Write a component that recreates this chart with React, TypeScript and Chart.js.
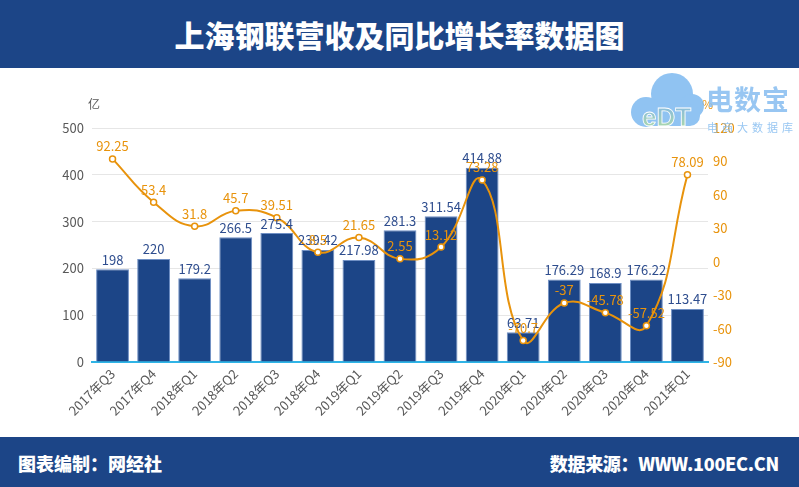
import React, { useEffect, useRef } from "react";
import { Chart, registerables } from "chart.js";

Chart.register(...registerables);

const categories = [
  "2017年Q3", "2017年Q4", "2018年Q1", "2018年Q2", "2018年Q3", "2018年Q4",
  "2019年Q1", "2019年Q2", "2019年Q3", "2019年Q4", "2020年Q1", "2020年Q2",
  "2020年Q3", "2020年Q4", "2021年Q1",
];
const revenue = [198, 220, 179.2, 266.5, 275.4, 239.42, 217.98, 281.3, 311.54, 414.88, 63.71, 176.29, 168.9, 176.22, 113.47];
const growth = [92.25, 53.4, 31.8, 45.7, 39.51, 8.5, 21.65, 2.55, 13.12, 73.28, -70.7, -37, -45.78, -57.52, 78.09];

const TITLE = "上海钢联营收及同比增长率数据图";
const FOOT_LEFT = "图表编制：网经社";
const FOOT_RIGHT = "数据来源：WWW.100EC.CN";

const BLUE = "#1c4587";
const ORANGE = "#e8930c";
const FONT = "'Noto Sans CJK SC', 'Noto Sans', sans-serif";

const labelPlugin = {
  id: "valueLabels",
  afterDatasetsDraw(chart: any) {
    const ctx = chart.ctx;
    ctx.save();
    ctx.textAlign = "center";
    ctx.textBaseline = "bottom";
    ctx.font = `13px ${FONT}`;
    const barMeta = chart.getDatasetMeta(0);
    barMeta.data.forEach((el: any, i: number) => {
      ctx.fillStyle = "#2e4d8e";
      ctx.fillText(String(revenue[i]), el.x, el.y - 3);
    });
    const lineMeta = chart.getDatasetMeta(1);
    lineMeta.data.forEach((el: any, i: number) => {
      ctx.fillStyle = ORANGE;
      ctx.fillText(String(growth[i]), el.x, el.y - 6);
    });
    const ca = chart.chartArea;
    ctx.font = `12px ${FONT}`;
    ctx.fillStyle = "#595959";
    ctx.textAlign = "left";
    ctx.textBaseline = "middle";
    ctx.fillText("亿", ca.left - 4, ca.top - 24);
    ctx.fillStyle = ORANGE;
    ctx.fillText("%", ca.right - 6, ca.top - 24);
    ctx.restore();
  },
};

function Logo() {
  return (
    <div style={{ position: "absolute", left: 626, top: 70, width: 172, height: 66, opacity: 0.85, pointerEvents: "none" }}>
      <svg width="82" height="64" style={{ position: "absolute", left: 0, top: 0 }}>
        <defs>
          <linearGradient id="edtg" x1="0" y1="0" x2="0" y2="1">
            <stop offset="0" stopColor="#6aa8e8" />
            <stop offset="1" stopColor="#a6d98f" />
          </linearGradient>
        </defs>
        <g fill="#7db9f0">
          <circle cx="46" cy="24" r="21" />
          <circle cx="20" cy="42" r="15" />
          <circle cx="66" cy="36" r="12" />
          <rect x="10" y="34" width="64" height="22" rx="10" />
        </g>
        <text x="16" y="56" fontSize="26" fontWeight="bold" fill="url(#edtg)" stroke="#ffffff" strokeWidth="0.8" fontFamily="Arial, sans-serif">eDT</text>
      </svg>
      <div style={{ position: "absolute", left: 80, top: 14, fontSize: 27, fontWeight: 700, color: "#86bdf0", fontFamily: FONT, letterSpacing: 1, lineHeight: "30px" }}>电数宝</div>
      <div style={{ position: "absolute", left: 81, top: 50, fontSize: 11, color: "#86bdf0", fontFamily: FONT, letterSpacing: 4, lineHeight: "14px" }}>电商大数据库</div>
    </div>
  );
}

export default function App() {
  const ref = useRef<HTMLCanvasElement | null>(null);
  useEffect(() => {
    document.body.style.margin = "0";
    const canvas = ref.current;
    if (!canvas) return;
    const chart = new Chart(canvas, {
      data: {
        labels: categories,
        datasets: [
          {
            type: "bar",
            label: "营收",
            data: revenue,
            backgroundColor: BLUE,
            borderColor: "#6f8fc4",
            borderWidth: 1,
            barPercentage: 0.8,
            categoryPercentage: 1,
            yAxisID: "y",
            order: 2,
          },
          {
            type: "line",
            label: "同比增长率",
            data: growth,
            borderColor: ORANGE,
            borderWidth: 2,
            backgroundColor: "#ffffff",
            pointBackgroundColor: "#ffffff",
            pointBorderColor: ORANGE,
            pointBorderWidth: 1.5,
            pointRadius: 3,
            tension: 0.45,
            yAxisID: "y1",
            order: 1,
          },
        ],
      } as any,
      options: {
        animation: false,
        responsive: false,
        maintainAspectRatio: false,
        layout: { padding: { top: 60, left: 0, right: 0, bottom: 0 } },
        plugins: { legend: { display: false }, tooltip: { enabled: false } },
        scales: {
          x: {
            grid: { display: false, drawTicks: false },
            border: { display: true, color: "#2fb4e6", width: 2 },
            ticks: {
              color: "#595959",
              font: { size: 13, family: FONT },
              maxRotation: 45,
              minRotation: 45,
              padding: 4,
            },
            afterFit(scale: any) { scale.height = 75; },
          },
          y: {
            position: "left",
            min: 0,
            max: 500,
            ticks: { stepSize: 100, color: "#595959", font: { size: 13, family: FONT }, padding: 8 },
            grid: { color: "#e6e6e6", drawTicks: false },
            border: { display: false },
            afterFit(scale: any) { scale.width = 92; },
          },
          y1: {
            position: "right",
            min: -90,
            max: 120,
            ticks: { stepSize: 30, color: ORANGE, font: { size: 13, family: FONT }, padding: 5 },
            grid: { display: false, drawTicks: false },
            border: { display: false },
            afterFit(scale: any) { scale.width = 91; },
          },
        },
      } as any,
      plugins: [labelPlugin],
    });
    return () => chart.destroy();
  }, []);

  return (
    <div style={{ position: "absolute", left: 0, top: 0, width: 799, height: 487, background: "#fff", overflow: "hidden", fontFamily: FONT }}>
      <div style={{ position: "absolute", left: 0, top: 0, width: 799, height: 68, background: BLUE, color: "#fff", display: "flex", alignItems: "center", justifyContent: "center", fontSize: 30, fontWeight: 900, letterSpacing: 0 }}>
        {TITLE}
      </div>
      <canvas ref={ref} width={799} height={369} style={{ position: "absolute", left: 0, top: 68, width: 799, height: 369 }} />
      <Logo />
      <div style={{ position: "absolute", left: 0, top: 437, width: 799, height: 50, background: BLUE, color: "#fff", fontWeight: 900, fontSize: 18 }}>
        <div style={{ position: "absolute", left: 18, top: 0, lineHeight: "52px" }}>{FOOT_LEFT}</div>
        <div style={{ position: "absolute", right: 20, top: 0, lineHeight: "52px", letterSpacing: -0.3 }}>{FOOT_RIGHT}</div>
      </div>
    </div>
  );
}
